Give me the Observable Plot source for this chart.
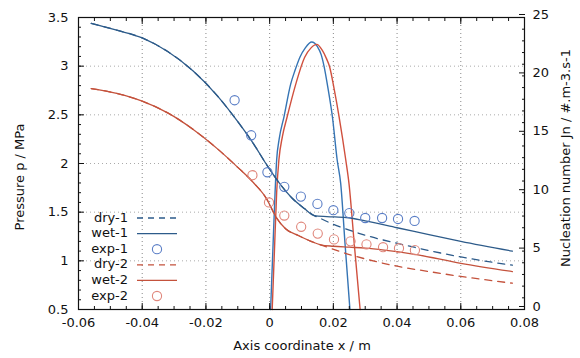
<!DOCTYPE html>
<html><head><meta charset="utf-8">
<script src="https://cdn.jsdelivr.net/npm/d3@7"></script>
<script src="https://cdn.jsdelivr.net/npm/@observablehq/plot@0.6"></script>
<style>
body{margin:0;background:#fff;}
#wrap{position:relative;width:580px;height:358px;font-family:"DejaVu Sans",sans-serif;}
</style></head><body><div id="wrap"></div>
<script>
// ---- data ----
const wet1X = [-0.056,-0.048,-0.040,-0.032,-0.024,-0.016,-0.010,-0.005,-0.001,0.003,0.007,0.011,0.014,0.018,0.024,0.030,0.040,0.050,0.060,0.0762];
const wet1P = [3.44,3.37,3.29,3.15,2.95,2.68,2.43,2.20,1.99,1.80,1.645,1.535,1.465,1.455,1.445,1.41,1.34,1.27,1.20,1.10];
const dry1X = [-0.056,-0.048,-0.040,-0.032,-0.024,-0.016,-0.010,-0.005,-0.001,0.003,0.007,0.011,0.014,0.016,0.020,0.025,0.032,0.042,0.060,0.0762];
const dry1P = [3.44,3.37,3.29,3.15,2.95,2.68,2.43,2.20,1.99,1.80,1.645,1.535,1.465,1.435,1.375,1.315,1.245,1.165,1.04,0.955];
const exp1X = [-0.011,-0.0058,-0.0007,0.0046,0.0098,0.015,0.020,0.025,0.030,0.0353,0.0403,0.0455];
const exp1P = [2.65,2.29,1.91,1.76,1.66,1.585,1.52,1.49,1.44,1.44,1.43,1.41];
const wet2X = [-0.056,-0.048,-0.040,-0.032,-0.024,-0.016,-0.010,-0.005,-0.001,0.002,0.005,0.009,0.013,0.016,0.020,0.025,0.030,0.036,0.045,0.060,0.0762];
const wet2P = [2.77,2.72,2.64,2.52,2.35,2.14,1.96,1.80,1.64,1.45,1.33,1.26,1.20,1.165,1.15,1.14,1.13,1.11,1.07,0.975,0.89];
const dry2X = [-0.056,-0.048,-0.040,-0.032,-0.024,-0.016,-0.010,-0.005,-0.001,0.002,0.005,0.009,0.013,0.016,0.019,0.024,0.030,0.040,0.050,0.060,0.0762];
const dry2P = [2.77,2.72,2.64,2.52,2.35,2.14,1.96,1.80,1.64,1.45,1.33,1.26,1.20,1.165,1.13,1.075,1.02,0.945,0.89,0.84,0.77];
const exp2X = [-0.0054,-0.0002,0.0046,0.0099,0.0151,0.0202,0.0254,0.0304,0.0356,0.0406,0.0456];
const exp2P = [1.88,1.60,1.465,1.35,1.28,1.22,1.20,1.17,1.14,1.13,1.11];
// nucleation number (right axis)
const nuc1X = [0.0003,0.0010,0.0017,0.0022,0.0030,0.0045,0.0066,0.0080,0.0095,0.0112,0.0132,0.0150,0.0162,0.0171,0.0184,0.0197,0.0212,0.0223,0.0237,0.0252];
const nuc1J = [0,5,10,12.8,14.6,16.5,19.3,20.5,21.6,22.4,22.9,22.5,21.8,20.8,18.8,16.5,12.8,10.8,5.5,0];
const nuc2X = [0.0008,0.0015,0.0022,0.0029,0.0040,0.0055,0.0082,0.0110,0.0130,0.0148,0.0165,0.0178,0.0188,0.0203,0.0218,0.0239,0.0249,0.0266,0.0284];
const nuc2J = [0,5,10,12.8,14.8,16.5,19.3,21.6,22.4,22.7,22.2,21.5,20.8,18.8,16.5,12.8,10.8,5.5,0];
// ticks
const xTicks = [-0.06,-0.04,-0.02,0,0.02,0.04,0.06,0.08];
const xTickLabels = ["-0.06","-0.04","-0.02","0","0.02","0.04","0.06","0.08"];
const pTicks = [0.5,1,1.5,2,2.5,3,3.5];
const pTickLabels = ["0.5","1","1.5","2","2.5","3","3.5"];
const jTicks = [0,5,10,15,20,25];
const series = ["dry-1","wet-1","exp-1","dry-2","wet-2","exp-2"];

// ---- build ----
const zip = (xs, ys) => xs.map((x, i) => ({x, y: ys[i]}));
const pMin = 0.5, pMax = 3.5, jMax = 25;
const jToP = j => pMin + j * (pMax - pMin) / jMax;
const BLUE = "#2d5b8a", RED = "#c4523c", NBLUE = "#3574b4", NRED = "#d0503e";
const EBLUE = "#5a7ec6", ERED = "#e0877c";
const xMinor = d3.range(-60, 81, 5).map(v => v / 1000);
const pMinor = d3.range(5, 36, 1).map(v => v / 10);
const jMinor = d3.range(0, 26, 1);

const chart = Plot.plot({
  width: 580, height: 358,
  marginLeft: 78, marginRight: 56, marginTop: 17, marginBottom: 49,
  style: "font-family:'DejaVu Sans',sans-serif;font-size:13px;color:#111;background:#fff;",
  x: {domain: [-0.06, 0.08]},
  y: {domain: [pMin, pMax]},
  marks: [
    Plot.gridX(xTicks.slice(1, -1), {stroke: "#888", strokeOpacity: 1, strokeDasharray: "1,3"}),
    Plot.gridY(pTicks.slice(1, -1), {stroke: "#aaa", strokeOpacity: 1, strokeDasharray: "1,3"}),
    Plot.line(zip(nuc1X, nuc1J), {x: "x", y: d => jToP(d.y), stroke: NBLUE, strokeWidth: 1.4, curve: "monotone-x"}),
    Plot.line(zip(nuc2X, nuc2J), {x: "x", y: d => jToP(d.y), stroke: NRED, strokeWidth: 1.4, curve: "monotone-x"}),
    Plot.line(zip(dry1X, dry1P), {x: "x", y: "y", stroke: BLUE, strokeWidth: 1.3, strokeDasharray: "7,6", curve: "monotone-x"}),
    Plot.line(zip(wet1X, wet1P), {x: "x", y: "y", stroke: BLUE, strokeWidth: 1.3, curve: "monotone-x"}),
    Plot.line(zip(dry2X, dry2P), {x: "x", y: "y", stroke: RED, strokeWidth: 1.3, strokeDasharray: "7,6", curve: "monotone-x"}),
    Plot.line(zip(wet2X, wet2P), {x: "x", y: "y", stroke: RED, strokeWidth: 1.3, curve: "monotone-x"}),
    Plot.dot(zip(exp1X, exp1P), {x: "x", y: "y", r: 4.6, stroke: EBLUE, strokeWidth: 1.1, fill: "none"}),
    Plot.dot(zip(exp2X, exp2P), {x: "x", y: "y", r: 4.6, stroke: ERED, strokeWidth: 1.1, fill: "none"}),
    // axes: inward ticks
    Plot.axisX(xTicks, {anchor: "bottom", label: null, tickSize: -6, tickPadding: 14, tickFormat: (d, i) => xTickLabels[i]}),
    Plot.axisX(xMinor, {anchor: "bottom", label: null, tickSize: -3, tickFormat: () => ""}),
    Plot.axisX(xTicks, {anchor: "top", label: null, tickSize: -6, tickFormat: () => ""}),
    Plot.axisX(xMinor, {anchor: "top", label: null, tickSize: -3, tickFormat: () => ""}),
    Plot.axisY(pTicks, {anchor: "left", label: null, tickSize: -6, tickPadding: 16, tickFormat: (d, i) => pTickLabels[i]}),
    Plot.axisY(pMinor, {anchor: "left", label: null, tickSize: -3, tickFormat: () => ""}),
    Plot.axisY(jTicks.map(jToP), {anchor: "right", label: null, tickSize: -6, tickPadding: 14, dy: -3, tickFormat: (d, i) => String(jTicks[i])}),
    Plot.axisY(jMinor.map(jToP), {anchor: "right", label: null, tickSize: -3, tickFormat: () => ""}),
    Plot.frame({stroke: "#111", strokeWidth: 1.2})
  ]
});
document.getElementById("wrap").appendChild(chart);

// axis titles
const svg = d3.select(chart);
const title = (x, y, rot, txt) => svg.append("text")
  .attr("transform", `translate(${x},${y}) rotate(${rot})`)
  .attr("text-anchor", "middle").attr("dominant-baseline", "middle")
  .attr("font-size", 13).attr("fill", "#111").text(txt);
title(302, 346, 0, "Axis coordinate x / m");
title(20, 177, -90, "Pressure p / MPa");
title(566, 158, -90, "Nucleation number Jn / #.m-3.s-1");

// legend
const leg = svg.append("g").attr("font-size", 13);
const styles = [
  {stroke: BLUE, dash: "6,5"}, {stroke: BLUE, dash: null}, {dot: EBLUE},
  {stroke: RED, dash: "6,5"}, {stroke: RED, dash: null}, {dot: ERED}
];
series.forEach((name, i) => {
  const y = 218 + i * 15.6;
  leg.append("text").attr("x", 128).attr("y", y).attr("text-anchor", "end")
    .attr("dominant-baseline", "middle").attr("fill", "#111").text(name);
  const s = styles[i];
  if (s.dot) {
    leg.append("circle").attr("cx", 157).attr("cy", y).attr("r", 4.6)
      .attr("fill", "none").attr("stroke", s.dot).attr("stroke-width", 1.1);
  } else {
    leg.append("line").attr("x1", 137).attr("x2", 177).attr("y1", y).attr("y2", y)
      .attr("stroke", s.stroke).attr("stroke-width", 1.3)
      .attr("stroke-dasharray", s.dash);
  }
});
</script></body></html>
